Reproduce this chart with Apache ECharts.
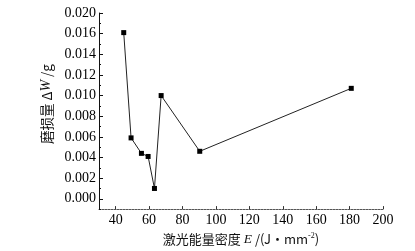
<!DOCTYPE html>
<html>
<head>
    <meta charset="utf-8">
    <title>磨损量-激光能量密度</title>
    <script src="https://cdn.jsdelivr.net/npm/echarts@6/dist/echarts.min.js"></script>
    <style type="text/css">
        *{margin: 0;padding: 0;}
        body{background: #fff;overflow: hidden;}
        #main{width: 415px;height: 251px;}
    </style>
</head>
<body>
<div id="main"></div>
<script type="text/javascript">
    // 数据
    var energy = [44.8, 49.2, 55.4, 59.4, 63.2, 67.2, 90.3, 181.0];
    var wear = [0.0161, 0.0059, 0.0044, 0.0041, 0.0010, 0.0100, 0.0046, 0.0107];
    var xTicks = [40, 60, 80, 100, 120, 140, 160, 180, 200];
    var yTicks = [0, 0.002, 0.004, 0.006, 0.008, 0.010, 0.012, 0.014, 0.016, 0.018];
    var yTickLabels = ['0.000', '0.002', '0.004', '0.006', '0.008', '0.010', '0.012', '0.014', '0.016', '0.020'];
    var yMinorTicks = [-0.001, 0.001, 0.003, 0.005, 0.007, 0.009, 0.011, 0.013, 0.015, 0.017];

    var font = '"Liberation Serif", serif';
    var cjk = '"Noto Sans CJK SC", "Liberation Serif", serif';

    var pts = [];
    for (var i = 0; i < energy.length; i++) {
        pts.push([energy[i], wear[i]]);
    }

    var myChart = echarts.init(document.getElementById('main'));
    var option = {
        animation: false,
        grid: {left: 99, right: 32, top: 13, bottom: 33},
        xAxis: {
            type: 'value',
            min: 30,
            max: 200,
            name: '激光能量密度 {i|E} /(J·mm{sup|-2})',
            nameLocation: 'middle',
            nameGap: 17,
            nameTextStyle: {
                color: '#111', fontSize: 13, fontFamily: cjk,
                rich: {
                    i: {fontStyle: 'italic', fontFamily: font, fontSize: 13.5, color: '#111'},
                    sup: {fontSize: 8, verticalAlign: 'top', padding: [0, 0, 6, 0], fontFamily: font, color: '#111'}
                }
            },
            axisLine: {onZero: false, lineStyle: {color: '#555', width: 1, type: [2, 1]}},
            axisTick: {inside: true, length: 3, customValues: xTicks, lineStyle: {color: '#333'}},
            axisLabel: {customValues: xTicks, color: '#000', fontSize: 14, fontFamily: font, margin: 4},
            splitLine: {show: false}
        },
        yAxis: [{
            type: 'value',
            min: -0.001,
            max: 0.018,
            name: '磨损量 Δ{i|W} /g',
            nameLocation: 'middle',
            nameRotate: 90,
            nameGap: 38,
            nameTextStyle: {
                color: '#111', fontSize: 13.5, fontFamily: cjk, padding: [0, 0, 0, 14],
                rich: {
                    i: {fontStyle: 'italic', fontFamily: font, fontSize: 14, color: '#111'}
                }
            },
            axisLine: {show: true, onZero: false, lineStyle: {color: '#111', width: 1}},
            axisTick: {inside: true, length: 4, customValues: yTicks, lineStyle: {color: '#111'}},
            axisLabel: {
                customValues: yTicks, color: '#000', fontSize: 14, fontFamily: font, margin: 3,
                formatter: function (v) {
                    for (var k = 0; k < yTicks.length; k++) {
                        if (Math.abs(yTicks[k] - v) < 1e-9) return yTickLabels[k];
                    }
                    return '';
                }
            },
            splitLine: {show: false}
        }, {
            // 次刻度
            type: 'value',
            position: 'left',
            min: -0.001,
            max: 0.018,
            axisLine: {show: false},
            axisTick: {inside: true, length: 2, customValues: yMinorTicks, lineStyle: {color: '#111'}},
            axisLabel: {show: false},
            splitLine: {show: false}
        }],
        series: [{
            type: 'line',
            data: pts,
            symbol: 'rect',
            symbolSize: 5,
            lineStyle: {color: '#222', width: 1},
            itemStyle: {color: '#000'}
        }]
    };
    myChart.setOption(option);
</script>
</body>
</html>
